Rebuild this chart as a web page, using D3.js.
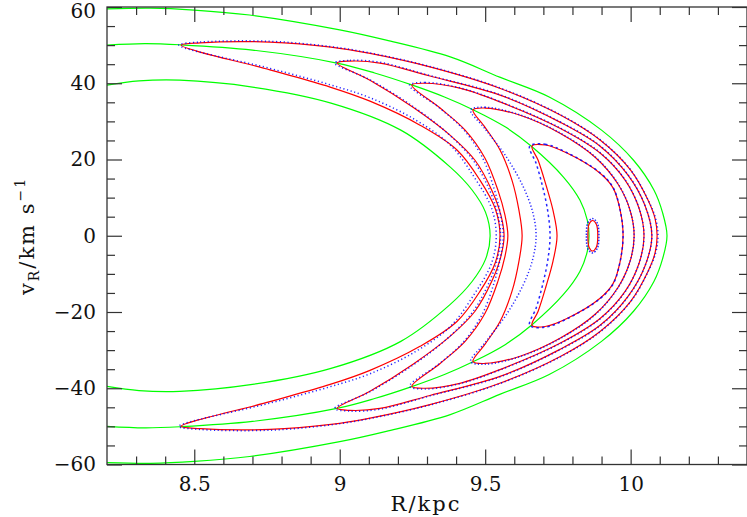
<!DOCTYPE html>
<html><head><meta charset="utf-8">
<script src="https://cdn.jsdelivr.net/npm/d3@7"></script>
<style>body{margin:0;background:#fff}svg{display:block}</style>
</head><body><svg id="c" width="747" height="517"></svg>
<script>
// ---- axis definitions ----
const xDomain = [8.2, 10.4];
const yDomain = [-60, 60];
const xMajorTicks = [8.5, 9, 9.5, 10];
const xMajorLabels = ["8.5", "9", "9.5", "10"];
const xMinorTicks = [8.3, 8.4, 8.6, 8.7, 8.8, 8.9, 9.1, 9.2, 9.3, 9.4, 9.6, 9.7, 9.8, 9.9, 10.1, 10.2, 10.3];
const yMajorTicks = [-60, -40, -20, 0, 20, 40, 60];
const yMajorLabels = ["\u221260", "\u221240", "\u221220", "0", "20", "40", "60"];
const yMinorTicks = [-55, -50, -45, -35, -30, -25, -15, -10, -5, 5, 10, 15, 25, 30, 35, 45, 50, 55];

// ---- unperturbed orbits (green) [R kpc, vR km/s] ----
const greenA = [[8.20,59.5],[8.35,59.7],[8.50,59.2],[8.69,57.9],[9.00,54.0],[9.16,51.3],[9.38,46.9],[9.55,41.6],[9.72,36.4],[9.90,27.7],[10.01,19.8],[10.08,12.0],[10.11,6.0],[10.125,0],
  [10.11,-6.0],[10.08,-12.0],[10.01,-19.8],[9.90,-27.7],[9.72,-36.4],[9.55,-41.6],[9.38,-46.9],[9.16,-51.3],[9.00,-54.0],[8.69,-57.9],[8.50,-59.2],[8.35,-59.7],[8.20,-59.5]];
const greenB = [[8.20,50.0],[8.33,50.4],[8.45,50.1],[8.70,48.7],[8.99,45.3],[9.12,42.7],[9.25,39.5],[9.36,36.4],[9.46,33.0],[9.57,28.5],[9.66,23.4],[9.769,15.4],[9.826,9.3],[9.851,4.1],[9.857,0],
  [9.851,-4.1],[9.826,-9.3],[9.769,-15.4],[9.66,-23.4],[9.57,-28.5],[9.46,-33.0],[9.36,-36.4],[9.25,-39.5],[9.12,-42.7],[8.99,-45.3],[8.70,-48.7],[8.45,-50.1],[8.33,-50.4],[8.20,-50.0]];
const greenC = [[8.20,39.5],[8.31,40.6],[8.45,40.8],[8.70,39.0],[8.97,34.8],[9.21,27.7],[9.38,18.0],[9.455,12.0],[9.501,6.2],[9.517,0],
  [9.501,-6.2],[9.455,-12.0],[9.38,-18.0],[9.21,-27.7],[8.97,-34.8],[8.70,-39.0],[8.45,-40.8],[8.31,-40.6],[8.20,-39.5]];

// ---- perturbed orbits (red), closed loops ----
const red1 = [[8.455,50.0],[8.52,50.6],[8.76,50.8],[8.97,49.5],[9.10,47.9],[9.31,44.3],[9.55,38.7],[9.76,31.6],[9.895,25.1],[10.00,17.2],[10.06,9.3],[10.084,4.5],[10.091,0],
  [10.084,-4.5],[10.06,-9.3],[10.00,-17.2],[9.895,-25.1],[9.76,-31.6],[9.55,-38.7],[9.31,-44.3],[9.10,-47.9],[8.97,-49.5],[8.76,-50.8],[8.52,-50.6],
  [8.455,-50.0],[8.76,-43.5],[8.967,-39.0],[9.104,-35.3],[9.276,-29.0],[9.403,-22.5],[9.482,-14.6],[9.535,-7.0],[9.551,0],
  [9.535,7.0],[9.482,14.6],[9.403,22.5],[9.276,29.0],[9.104,35.3],[8.967,39.0],[8.76,43.5]];
const red2 = [[8.991,45.3],[9.035,45.8],[9.138,45.3],[9.31,41.9],[9.551,36.9],[9.757,29.8],[9.895,23.5],[9.991,15.9],[10.049,8.0],[10.073,0],
  [10.049,-8.0],[9.991,-15.9],[9.895,-23.5],[9.757,-29.8],[9.551,-36.9],[9.31,-41.9],[9.138,-45.3],[9.035,-45.8],
  [8.991,-45.3],[9.104,-40.8],[9.252,-33.7],[9.379,-26.4],[9.465,-19.8],[9.523,-11.9],[9.554,-5.4],[9.565,0],
  [9.554,5.4],[9.523,11.9],[9.465,19.8],[9.379,26.4],[9.252,33.7],[9.104,40.8]];
const red3 = [[9.248,39.5],[9.293,40.0],[9.413,38.7],[9.551,35.1],[9.757,28.2],[9.895,21.7],[9.981,14.6],[10.029,7.2],[10.046,0],
  [10.029,-7.2],[9.981,-14.6],[9.895,-21.7],[9.757,-28.2],[9.551,-35.1],[9.413,-38.7],[9.293,-40.0],
  [9.248,-39.5],[9.345,-33.5],[9.431,-27.7],[9.499,-20.4],[9.544,-11.9],[9.568,-5.4],[9.578,0],
  [9.568,5.4],[9.544,11.9],[9.499,20.4],[9.431,27.7],[9.345,33.5]];
const red4 = [[9.458,33.0],[9.499,33.5],[9.620,31.6],[9.757,26.9],[9.878,20.6],[9.957,13.5],[9.998,6.7],[10.012,0],
  [9.998,-6.7],[9.957,-13.5],[9.878,-20.6],[9.757,-26.9],[9.620,-31.6],[9.499,-33.5],
  [9.458,-33.0],[9.499,-28.5],[9.551,-22.5],[9.592,-14.6],[9.616,-6.7],[9.627,0],
  [9.616,6.7],[9.592,14.6],[9.551,22.5],[9.499,28.5]];
const red5 = [[9.661,23.5],[9.706,23.8],[9.781,21.7],[9.895,16.4],[9.940,12.5],[9.964,6.7],[9.974,0],
  [9.964,-6.7],[9.940,-12.5],[9.895,-16.4],[9.781,-21.7],[9.706,-23.8],
  [9.661,-23.5],[9.682,-19.8],[9.709,-13.3],[9.733,-6.7],[9.747,0],
  [9.733,6.7],[9.709,13.3],[9.682,19.8]];
const redIsland = [[9.853,0],[9.857,3.0],[9.869,4.0],[9.882,3.0],[9.887,0],[9.882,-3.0],[9.869,-4.0],[9.857,-3.0]];

// ---- second integration (blue dots), closed loops ----
const blue1 = [[8.447,50.0],[8.52,50.8],[8.76,51.0],[8.97,49.6],[9.10,48.0],[9.31,44.4],[9.55,38.8],[9.76,31.7],[9.895,25.2],[10.00,17.3],[10.06,9.4],[10.086,4.5],[10.094,0],
  [10.086,-4.5],[10.06,-9.4],[10.00,-17.3],[9.895,-25.2],[9.76,-31.7],[9.55,-38.8],[9.31,-44.4],[9.10,-48.0],[8.97,-49.6],[8.76,-51.0],[8.52,-50.8],
  [8.447,-50.0],[8.76,-43.9],[8.967,-39.6],[9.104,-36.2],[9.260,-30.4],[9.380,-23.8],[9.462,-15.4],[9.522,-7.2],[9.538,0],
  [9.522,7.2],[9.462,15.4],[9.380,23.8],[9.260,30.4],[9.104,36.2],[8.967,39.6],[8.76,43.9]];
const blue2 = [[8.983,45.3],[9.035,46.0],[9.138,45.5],[9.31,42.0],[9.551,37.0],[9.757,29.9],[9.895,23.6],[9.991,16.0],[10.049,8.0],[10.073,0],
  [10.049,-8.0],[9.991,-16.0],[9.895,-23.6],[9.757,-29.9],[9.551,-37.0],[9.31,-42.0],[9.138,-45.5],[9.035,-46.0],
  [8.983,-45.3],[9.104,-40.9],[9.252,-33.9],[9.375,-26.6],[9.457,-20.0],[9.515,-12.0],[9.544,-5.4],[9.553,0],
  [9.544,5.4],[9.515,12.0],[9.457,20.0],[9.375,26.6],[9.252,33.9],[9.104,40.9]];
const blue3 = [[9.240,39.5],[9.293,40.2],[9.413,38.8],[9.551,35.2],[9.757,28.3],[9.895,21.8],[9.981,14.7],[10.029,7.2],[10.046,0],
  [10.029,-7.2],[9.981,-14.7],[9.895,-21.8],[9.757,-28.3],[9.551,-35.2],[9.413,-38.8],[9.293,-40.2],
  [9.240,-39.5],[9.340,-33.7],[9.425,-27.9],[9.490,-20.6],[9.532,-12.0],[9.553,-5.4],[9.562,0],
  [9.553,5.4],[9.532,12.0],[9.490,20.6],[9.425,27.9],[9.340,33.7]];
const blue4 = [[9.450,33.0],[9.499,33.7],[9.620,31.7],[9.757,27.0],[9.878,20.7],[9.957,13.6],[9.998,6.7],[10.012,0],
  [9.998,-6.7],[9.957,-13.6],[9.878,-20.7],[9.757,-27.0],[9.620,-31.7],[9.499,-33.7],
  [9.450,-33.0],[9.500,-28.0],[9.570,-21.0],[9.630,-13.0],[9.664,-6.0],[9.675,0],
  [9.664,6.0],[9.630,13.0],[9.570,21.0],[9.500,28.0]];
const blue5 = [[9.653,23.5],[9.706,24.0],[9.781,21.8],[9.895,16.5],[9.940,12.6],[9.964,6.7],[9.974,0],
  [9.964,-6.7],[9.940,-12.6],[9.895,-16.5],[9.781,-21.8],[9.706,-24.0],
  [9.653,-23.5],[9.675,-19.0],[9.697,-13.0],[9.715,-6.5],[9.723,0],
  [9.715,6.5],[9.697,13.0],[9.675,19.0]];
const blueIsland = [[9.848,0],[9.853,3.4],[9.869,4.5],[9.885,3.4],[9.891,0],[9.885,-3.4],[9.869,-4.5],[9.853,-3.4]];

const greenCurves = [greenA, greenB, greenC];
const redLoops = [red1, red2, red3, red4, red5, redIsland];
const blueLoops = [blue1, blue2, blue3, blue4, blue5, blueIsland];
const blueDash = ["1.2 2.6", "1.2 2.6", "1.2 2.6", "1.2 2.2", "2.5 3", "1.5 1.5"];

// ---- drawing ----
const L = 107, R = 747, T = 7, B = 464.5;
const svg = d3.select("#c");
const x = d3.scaleLinear().domain(xDomain).range([L, R]);
const y = d3.scaleLinear().domain(yDomain).range([B, T]);

svg.append("defs").append("clipPath").attr("id", "clip")
  .append("rect").attr("x", L).attr("y", T).attr("width", R - L).attr("height", B - T);

const plot = svg.append("g").attr("clip-path", "url(#clip)");
const openLine = d3.line().x(d => x(d[0])).y(d => y(d[1])).curve(d3.curveCatmullRom.alpha(0.5));
const closedLine = d3.line().x(d => x(d[0])).y(d => y(d[1])).curve(d3.curveCatmullRomClosed.alpha(0.5));

plot.selectAll("path.g").data(greenCurves).join("path").attr("class", "g")
  .attr("d", openLine).attr("fill", "none").attr("stroke", "#00ff00").attr("stroke-width", 1.2);
plot.selectAll("path.r").data(redLoops).join("path").attr("class", "r")
  .attr("d", closedLine).attr("fill", "none").attr("stroke", "#ff0000").attr("stroke-width", 1.2);
plot.selectAll("path.b").data(blueLoops).join("path").attr("class", "b")
  .attr("d", closedLine).attr("fill", "none").attr("stroke", "#0000ff").attr("stroke-width", 1.5)
  .attr("stroke-dasharray", (d, i) => blueDash[i]).attr("opacity", 0.85);

// axes
const axisColor = "#333";
function styleAxis(g) {
  g.select(".domain").remove();
  g.selectAll(".tick line").attr("stroke", axisColor).attr("stroke-width", 1.2);
  g.selectAll(".tick text").attr("fill", "#111").attr("font-family", "DejaVu Serif").attr("font-size", 20);
}
const xl = d3.scaleOrdinal().domain(xMajorTicks).range(xMajorLabels);
const yl = d3.scaleOrdinal().domain(yMajorTicks).range(yMajorLabels);

svg.append("g").attr("transform", `translate(0,${B})`)
  .call(d3.axisBottom(x).tickValues(xMajorTicks).tickSize(-15).tickPadding(12).tickFormat(d => xl(d))).call(styleAxis);
svg.append("g").attr("transform", `translate(0,${B})`)
  .call(d3.axisBottom(x).tickValues(xMinorTicks).tickSize(-8).tickFormat("")).call(styleAxis);
svg.append("g").attr("transform", `translate(0,${T})`)
  .call(d3.axisTop(x).tickValues(xMajorTicks).tickSize(-15).tickFormat("")).call(styleAxis);
svg.append("g").attr("transform", `translate(0,${T})`)
  .call(d3.axisTop(x).tickValues(xMinorTicks).tickSize(-8).tickFormat("")).call(styleAxis);
const leftAx = svg.append("g").attr("transform", `translate(${L},0)`)
  .call(d3.axisLeft(y).tickValues(yMajorTicks).tickSize(-15).tickPadding(11).tickFormat(d => yl(d))).call(styleAxis);
leftAx.selectAll(".tick text").filter(d => d === 60).attr("dy", "0.52em");
svg.append("g").attr("transform", `translate(${L},0)`)
  .call(d3.axisLeft(y).tickValues(yMinorTicks).tickSize(-8).tickFormat("")).call(styleAxis);
svg.append("g").attr("transform", `translate(${R},0)`)
  .call(d3.axisRight(y).tickValues(yMajorTicks).tickSize(-15).tickFormat("")).call(styleAxis);
svg.append("g").attr("transform", `translate(${R},0)`)
  .call(d3.axisRight(y).tickValues(yMinorTicks).tickSize(-8).tickFormat("")).call(styleAxis);

svg.append("rect").attr("x", L).attr("y", T).attr("width", R - L).attr("height", B - T)
  .attr("fill", "none").attr("stroke", axisColor).attr("stroke-width", 1.3);

// axis titles
svg.append("text").attr("x", (L + R) / 2 - 1).attr("y", 511).attr("text-anchor", "middle")
  .attr("font-family", "DejaVu Serif").attr("font-size", 21).attr("letter-spacing", 2).attr("fill", "#111")
  .text("R/kpc");

const yt = svg.append("text").attr("transform", "translate(34,236) rotate(-90)")
  .attr("text-anchor", "middle").attr("font-family", "DejaVu Serif").attr("font-size", 21).attr("fill", "#111")
  .attr("letter-spacing", 2);
yt.append("tspan").text("v");
yt.append("tspan").attr("font-size", 14).attr("dy", 5).text("R");
yt.append("tspan").attr("dy", -5).text("/km s");
yt.append("tspan").attr("font-size", 14).attr("dy", -9).text("\u22121");
</script></body></html>
